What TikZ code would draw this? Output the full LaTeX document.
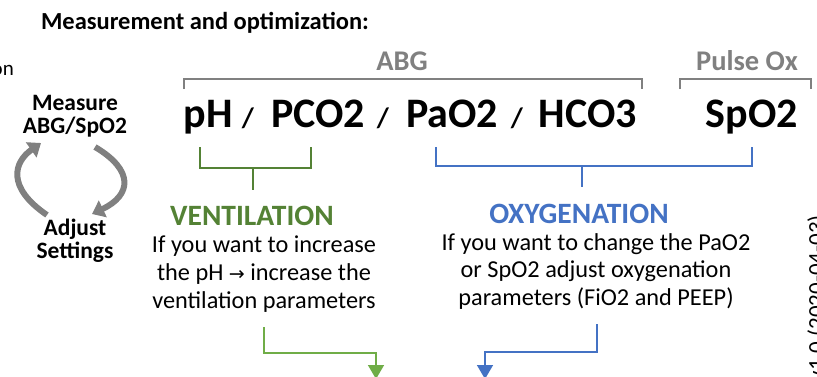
\documentclass[tikz,border=0pt]{standalone}
\usepackage{fontspec}
\setmainfont{Carlito}
\newfontfamily\arrowfont{DejaVu Sans}
\usetikzlibrary{calc, positioning, arrows.meta}
\definecolor{ventgreen}{RGB}{84,130,53}
\definecolor{arrgreen}{RGB}{112,173,71}
\definecolor{oxyblue}{RGB}{68,114,196}
\definecolor{labgray}{RGB}{128,128,128}

\tikzset{
  txt/.style={inner sep=0pt, anchor=base},
  bigtxt/.style={txt, font=\fontsize{42}{46}\selectfont\bfseries},
  slashtxt/.style={txt, font=\fontsize{28}{30}\selectfont\bfseries},
  grouptxt/.style={txt, text=labgray, font=\fontsize{28.5}{30}\selectfont\bfseries},
  cycletxt/.style={txt, font=\fontsize{23.5}{27}\selectfont\bfseries},
  headtxt/.style={txt, font=\fontsize{29.5}{32}\selectfont\bfseries},
  bodytxt/.style={txt, font=\fontsize{24.3}{28}\selectfont},
  bracket/.style={line width=1.3pt},
  cyclearrow/.style={labgray, line width=6pt, -{Triangle[length=12pt,width=18pt]}},
  flowarrow/.style={line width=1.5pt, -{Triangle[length=14pt,width=16pt]}}
}

\begin{document}
\begin{tikzpicture}[x=1pt, y=-1pt]
\clip (0,0) rectangle (817,376);

% title
\node[txt, font=\fontsize{24.5}{26}\selectfont\bfseries] (title) at (205,29) {Measurement and optimization:};
\node[txt, anchor=base east, font=\fontsize{21}{24}\selectfont] (cut) at (14,75) {on};

% measure / adjust cycle
\node[cycletxt] (measure) at (75,110) {Measure};
\node[cycletxt] (abgspo) at (75,133) {ABG/SpO2};
\node[cycletxt] (adjust) at (75,235) {Adjust};
\node[cycletxt] (settings) at (75,258) {Settings};
\draw[cyclearrow] (47,215) .. controls (6,187) and (14,162) .. (41,143);
\draw[cyclearrow] (95,147) .. controls (134,170) and (132,195) .. (92,214);

% ABG and pulse ox groups
\node[grouptxt] (abg) at (402,70) {ABG};
\node[grouptxt] (pulseox) at (747,70) {Pulse Ox};
\draw[labgray, bracket] (184,89) -- (184,79) -- (642,79) -- (642,89);
\draw[labgray, bracket] (680,89) -- (680,79) -- (811,79) -- (811,89);

% values
\node[bigtxt] (ph) at (208,127) {pH};
\node[slashtxt] (s1) at (248,127) {/};
\node[bigtxt] (pco) at (318,127) {PCO2};
\node[slashtxt] (s2) at (383,127) {/};
\node[bigtxt] (pao) at (452,127) {PaO2};
\node[slashtxt] (s3) at (517,127) {/};
\node[bigtxt] (hco) at (588,127) {HCO3};
\node[bigtxt] (spo) at (752,127) {SpO2};

% ventilation
\coordinate (vstem) at (253,190);
\draw[ventgreen, bracket] (200,147) -- (200,168) -- (311,168) -- (311,147);
\draw[ventgreen, bracket] (253,168) -- (vstem);
\node[headtxt, text=ventgreen] (vent) at (252,225) {VENTILATION};
\node[bodytxt] (vline1) at (264,252) {If you want to increase};
\node[bodytxt] (vline2) at (264,280) {the pH {\arrowfont\fontsize{19}{20}\selectfont→} increase the};
\node[bodytxt] (vline3) at (264,308) {ventilation parameters};
\coordinate (ventin) at (264,327);
\coordinate (ventout) at (376,379);
\draw[arrgreen, flowarrow] (ventin) -- (264,353) -| (ventout);

% oxygenation
\coordinate (ostem) at (582,187);
\draw[oxyblue, bracket] (436,147) -- (436,166) -- (752,166) -- (752,147);
\draw[oxyblue, bracket] (582,166) -- (ostem);
\node[headtxt, text=oxyblue] (oxy) at (579,223) {OXYGENATION};
\node[bodytxt] (oline1) at (596,250) {If you want to change the PaO2};
\node[bodytxt] (oline2) at (596,277) {or SpO2 adjust oxygenation};
\node[bodytxt] (oline3) at (596,305) {parameters (FiO2 and PEEP)};
\coordinate (oxyin) at (597,324);
\coordinate (oxyout) at (485,379);
\draw[oxyblue, flowarrow] (oxyin) -- (597,352) -| (oxyout);

% version
\node[inner sep=0pt, rotate=90, anchor=north east, font=\fontsize{23}{25}\selectfont] (version) at (807,215) {v1.0 (2020-04-03)};
\end{tikzpicture}
\end{document}
